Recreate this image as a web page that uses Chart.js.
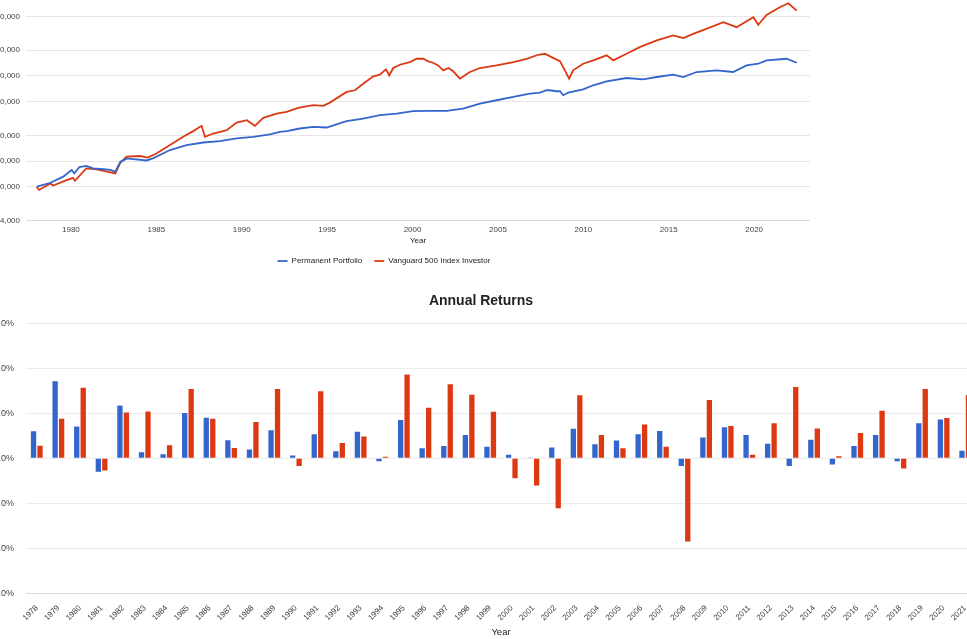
<!DOCTYPE html>
<html>
<head>
<meta charset="utf-8">
<title>Portfolio Growth and Annual Returns</title>
<script src="https://cdn.jsdelivr.net/npm/chart.js@4.4.0/dist/chart.umd.min.js"></script>
<style>
  html, body { margin: 0; padding: 0; overflow: hidden; background: #fff; width: 967px; height: 639px; }
  #growth { position: absolute; left: -42px; top: -20px; }
  #annual { position: absolute; left: -14px; top: 285px; }
</style>
</head>
<body>
<canvas id="growth" width="852" height="295"></canvas>
<canvas id="annual" width="990" height="354"></canvas>
<script>
var seriesNames = ["Permanent Portfolio", "Vanguard 500 Index Investor"];
var seriesColors = ["#3366CC", "#DC3912"];

// portfolio growth
var ppTimes = [1978.0, 1978.8, 1979.55, 1980.04, 1980.2, 1980.5, 1980.9, 1981.3, 1981.9, 1982.3, 1982.6, 1982.9,
  1983.3, 1983.65, 1984.43, 1984.8, 1985.8, 1986.77, 1987.75, 1988.72, 1989.7, 1990.67, 1991.65, 1992.24,
  1992.63, 1993.4, 1994.19, 1994.97, 1996.14, 1997.11, 1998.09, 1999.06, 2000.04, 2001.0, 2002.0, 2002.96,
  2003.95, 2004.92, 2005.9, 2006.87, 2007.46, 2007.85, 2008.04, 2008.43, 2008.63, 2008.82, 2009.11, 2009.99,
  2010.58, 2011.36, 2012.53, 2013.5, 2014.3, 2015.26, 2015.85, 2016.63, 2017.8, 2018.77, 2019.56, 2020.24,
  2020.73, 2021.9, 2022.49];
var ppValues = [10000, 11100, 13100, 15700, 14300, 17000, 17500, 16400, 16000, 15700, 15000, 19600,
  21500, 21100, 20300, 21500, 26900, 30800, 33000, 34300, 36800, 38500, 41000, 44100,
  44900, 48200, 50400, 49500, 58800, 63100, 69100, 72100, 77100, 77800, 77800, 82600,
  94600, 103500, 113200, 123900, 127100, 135600, 135600, 132100, 132100, 118600, 127100, 139300,
  155200, 173000, 188900, 182400, 194100, 206600, 194100, 222200, 232700, 222200, 266000, 278000,
  304700, 318000, 285600];

var vfTimes = [1978.0, 1978.13, 1978.8, 1978.96, 1979.75, 1980.13, 1980.23, 1980.9, 1981.5, 1982.1, 1982.6, 1982.87,
  1983.26, 1984.04, 1984.5, 1985.0, 1985.8, 1986.57, 1987.16, 1987.65, 1987.85, 1988.33, 1989.12, 1989.7,
  1990.3, 1990.77, 1991.26, 1992.04, 1992.63, 1993.3, 1994.19, 1994.77, 1995.16, 1996.14, 1996.63, 1997.11,
  1997.7, 1998.09, 1998.44, 1998.64, 1998.87, 1999.26, 1999.85, 2000.24, 2000.63, 2000.92, 2001.2, 2001.5,
  2001.8, 2002.1, 2002.38, 2002.78, 2003.07, 2003.36, 2003.95, 2004.92, 2005.9, 2006.68, 2007.36, 2007.75,
  2008.14, 2008.63, 2008.92, 2009.17, 2009.4, 2009.99, 2010.58, 2011.36, 2011.75, 2012.53, 2013.3, 2014.3,
  2015.26, 2015.85, 2016.43, 2017.2, 2018.2, 2018.97, 2019.95, 2020.24, 2020.73, 2021.5, 2022.0, 2022.49];
var vfValues = [10000, 9150, 10900, 10300, 11900, 12700, 11700, 16400, 16000, 15000, 14300, 18800,
  22500, 22900, 21900, 24500, 30800, 38500, 44900, 51800, 38500, 42100, 46100, 56600,
  60400, 51800, 64300, 72100, 75500, 84200, 90500, 88900, 97100, 129600, 135600, 162000,
  197800, 206600, 238900, 203300, 247600, 270500, 291000, 318000, 318000, 296600, 285600, 266000,
  232700, 247600, 226500, 185500, 203300, 222200, 247600, 266000, 291000, 318000, 354300, 364000,
  332900, 298000, 232700, 185500, 232700, 278000, 304700, 348500, 304700, 364000, 435800, 522500,
  597600, 556000, 624000, 714000, 855000, 748000, 979000, 796000, 1042000, 1282000, 1429000, 1172000];

var growthTicks = [4000, 10000, 20000, 40000, 100000, 200000, 400000, 1000000];
var yearTicks = [1980, 1985, 1990, 1995, 2000, 2005, 2010, 2015, 2020];

// annual returns in percent
var years = [1978, 1979, 1980, 1981, 1982, 1983, 1984, 1985, 1986, 1987, 1988, 1989, 1990, 1991, 1992,
  1993, 1994, 1995, 1996, 1997, 1998, 1999, 2000, 2001, 2002, 2003, 2004, 2005, 2006, 2007, 2008,
  2009, 2010, 2011, 2012, 2013, 2014, 2015, 2016, 2017, 2018, 2019, 2020, 2021];
var ppReturns = [12.0, 34.2, 14.1, -6.0, 23.5, 2.7, 1.8, 20.1, 18.0, 8.0, 3.9, 12.5, 1.3, 10.7, 3.1,
  11.8, -1.3, 17.0, 4.5, 5.5, 10.4, 5.1, 1.6, 0.1, 4.8, 13.1, 6.3, 7.9, 10.7, 12.1, -3.4,
  9.2, 13.8, 10.4, 6.5, -3.4, 8.3, -2.7, 5.5, 10.4, -1.3, 15.6, 17.3, 3.4];
var vfReturns = [5.6, 17.6, 31.4, -5.4, 20.4, 20.8, 5.8, 30.8, 17.6, 4.6, 16.1, 30.8, -3.4, 29.8, 6.8,
  9.7, 0.7, 37.2, 22.5, 32.9, 28.3, 20.7, -8.9, -12.1, -22.2, 28.0, 10.4, 4.5, 15.0, 5.1, -37.0,
  25.9, 14.4, 1.6, 15.6, 31.7, 13.2, 0.9, 11.3, 21.1, -4.5, 30.8, 17.9, 28.1];

function load() {
  Chart.defaults.font.family = "'Liberation Sans', Arial, sans-serif";
  Chart.defaults.color = "#444";
  make_growth_chart();
  make_returns_chart();
}

function toPoints(times, values) {
  var pts = [];
  for (var i = 0; i < times.length; i++) {
    pts.push({ x: times[i], y: values[i] });
  }
  return pts;
}

// keep the plot area where the picture has it, whatever the tick labels want
function noSidePadding(scale) {
  scale.paddingLeft = 0;
  scale.paddingRight = 0;
}

function make_growth_chart() {
  var config = {
    type: "line",
    data: {
      datasets: [
        { label: seriesNames[0], data: toPoints(ppTimes, ppValues), borderColor: seriesColors[0], backgroundColor: seriesColors[0], borderWidth: 1.8, pointRadius: 0, tension: 0 },
        { label: seriesNames[1], data: toPoints(vfTimes, vfValues), borderColor: seriesColors[1], backgroundColor: seriesColors[1], borderWidth: 1.8, pointRadius: 0, tension: 0 },
      ],
    },
    options: {
      responsive: false,
      animation: false,
      layout: { padding: { top: 8.5, left: 0, right: 0, bottom: 0 } },
      scales: {
        x: {
          type: "linear",
          min: 1977.37,
          max: 2023.27,
          afterBuildTicks: function (scale) {
            scale.ticks = yearTicks.map(function (v) { return { value: v }; });
          },
          afterFit: function (scale) { scale.height = 24.5; noSidePadding(scale); },
          grid: { display: false, drawTicks: false },
          border: { color: "#d9d9d9" },
          ticks: { font: { size: 8 }, padding: 4, color: "#444", callback: function (v) { return String(v); } },
          title: { display: true, text: "Year", font: { size: 8, lineHeight: 1 }, color: "#222", padding: 0 },
        },
        y: {
          type: "logarithmic",
          min: 4000,
          max: 2000000,
          afterBuildTicks: function (scale) {
            scale.ticks = growthTicks.map(function (v) { return { value: v }; });
          },
          afterFit: function (scale) { scale.width = 68; },
          grid: { color: "#e6e6e6", drawTicks: false },
          border: { display: false },
          ticks: {
            font: { size: 8 },
            padding: 6,
            color: "#444",
            callback: function (v) { return "$" + Number(v).toLocaleString("en-US"); },
          },
        },
      },
      plugins: {
        legend: {
          position: "bottom",
          labels: {
            usePointStyle: true,
            pointStyle: "line",
            pointStyleWidth: 10,
            boxHeight: 8,
            padding: 12,
            font: { size: 8 },
            color: "#222",
          },
        },
        tooltip: { enabled: false },
      },
    },
  };
  var ctx = document.getElementById("growth").getContext("2d");
  new Chart(ctx, config);
}

function make_returns_chart() {
  var config = {
    type: "bar",
    data: {
      labels: years.map(String),
      datasets: [
        { label: seriesNames[0], data: ppReturns, backgroundColor: seriesColors[0], categoryPercentage: 0.6, barPercentage: 0.82 },
        { label: seriesNames[1], data: vfReturns, backgroundColor: seriesColors[1], categoryPercentage: 0.6, barPercentage: 0.82 },
      ],
    },
    options: {
      responsive: false,
      animation: false,
      layout: { padding: 0 },
      scales: {
        x: {
          afterFit: function (scale) { scale.height = 45.7; noSidePadding(scale); },
          grid: { display: false, drawTicks: false },
          border: { color: "#d9d9d9" },
          ticks: { font: { size: 8 }, color: "#444", minRotation: 45, maxRotation: 45, autoSkip: false, padding: 10 },
          title: { display: true, text: "Year", font: { size: 9.5, lineHeight: 1.2 }, color: "#222", padding: { top: 0, bottom: 1 } },
        },
        y: {
          min: -60,
          max: 60,
          afterFit: function (scale) { scale.width = 40; },
          grid: { color: "#ebebeb", drawTicks: false },
          border: { display: false },
          ticks: {
            stepSize: 20,
            font: { size: 9 },
            padding: 12,
            color: "#444",
            callback: function (v) { return v.toFixed(1) + "%"; },
          },
        },
      },
      plugins: {
        legend: { display: false },
        title: {
          display: true,
          text: "Annual Returns",
          font: { size: 14, weight: "bold" },
          color: "#222",
          padding: { top: 8, bottom: 13.5 },
        },
        tooltip: { enabled: false },
      },
    },
  };
  var ctx = document.getElementById("annual").getContext("2d");
  new Chart(ctx, config);
}

load();
</script>
</body>
</html>
